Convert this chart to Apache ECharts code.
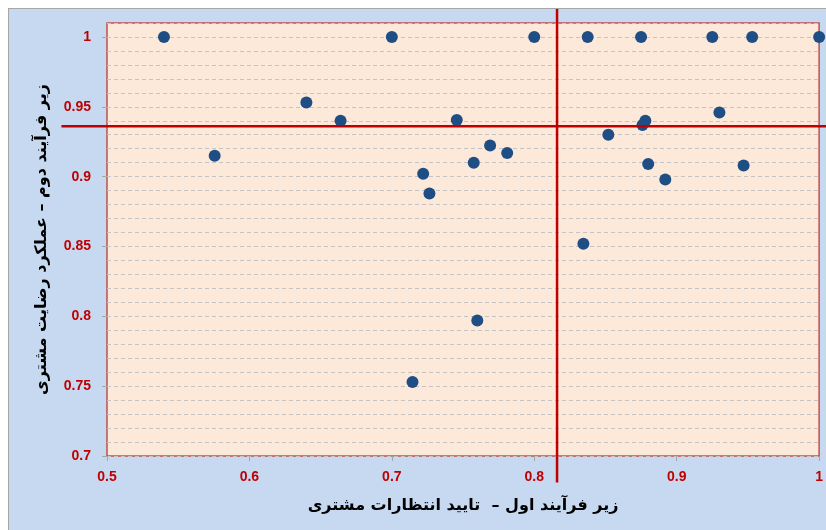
<!DOCTYPE html>
<html>
<head>
<meta charset="utf-8">
<script src="https://cdn.jsdelivr.net/npm/echarts@6/dist/echarts.min.js"></script>
<style>
html, body { margin: 0; padding: 0; background: #fff; }
#frame { position: absolute; left: 8px; top: 8px; width: 830px; height: 540px; background: #c6d9f1; border-left: 1px solid #a6a6a6; border-top: 1px solid #a6a6a6; }
#main { position: absolute; left: 0; top: 0; width: 826px; height: 530px; }
</style>
</head>
<body>
<div id="frame"></div>
<div id="main"></div>
<script>
// نقاط مشتریان: محور افقی = زیر فرآیند اول، محور عمودی = زیر فرآیند دوم
var xValues = [0.54, 0.70, 0.80, 0.8375, 0.875, 0.925, 0.953, 1.0,
	0.5756, 0.640, 0.664, 0.7456, 0.769, 0.781, 0.7575, 0.722, 0.7264,
	0.852, 0.878, 0.876, 0.880, 0.892, 0.930, 0.947, 0.8345, 0.760, 0.7145];
var yValues = [1, 1, 1, 1, 1, 1, 1, 1,
	0.915, 0.953, 0.940, 0.9405, 0.9223, 0.917, 0.910, 0.902, 0.888,
	0.930, 0.940, 0.937, 0.909, 0.898, 0.946, 0.908, 0.852, 0.797, 0.753];

// خطوط میانگین (قرمز)
var refX = 0.816;
var refY = 0.936;
var vLineSpan = [1.020, 0.681];
var hLineSpan = [0.468, 1.01];

var yTickLabels = [0.7, 0.75, 0.8, 0.85, 0.9, 0.95, 1];

var points = [];
for (var i in xValues) {
	points.push([xValues[i], yValues[i]]);
}
// [x1, y1, x2, y2]
var refLines = [
	[refX, vLineSpan[0], refX, vLineSpan[1]],
	[hLineSpan[0], refY, hLineSpan[1], refY]
];

var myChart = echarts.init(document.getElementById('main'));

var labelStyle = {
	color: '#c00000',
	fontWeight: 'bold',
	fontSize: 14,
	fontFamily: 'Liberation Sans'
};
var nameStyle = { color: '#000', fontWeight: 'bold', fontSize: 16, fontFamily: 'DejaVu Sans' };

var isLabel = function (v) {
	for (var i in yTickLabels) {
		if (Math.abs(yTickLabels[i] - v) < 1e-6) return true;
	}
	return false;
};

var option = {
	animation: false,
	grid: {
		left: 107,
		right: 5,
		top: 23,
		bottom: 74,
		show: true,
		backgroundColor: '#fde9d9',
		borderColor: '#c0504d',
		borderWidth: 1.5
	},
	xAxis: {
		type: 'value',
		min: 0.5,
		max: 1,
		interval: 0.1,
		name: 'زیر فرآیند اول –  تایید انتظارات مشتری',
		nameLocation: 'middle',
		nameGap: 42,
		nameTextStyle: nameStyle,
		axisLine: { show: false },
		axisTick: { show: true, length: 5, lineStyle: { color: '#a6a6a6' } },
		axisLabel: Object.assign({ margin: 14 }, labelStyle),
		splitLine: { show: false }
	},
	yAxis: [{
			type: 'value',
			min: 0.7,
			max: 1.01,
			interval: 0.01,
			name: 'زیر فرآیند دوم – عملکرد رضایت مشتری',
			nameLocation: 'middle',
			nameGap: 57,
			nameRotate: 90,
			nameTextStyle: nameStyle,
			axisLine: { show: false },
			axisTick: { show: false },
			axisLabel: Object.assign({
				margin: 16,
				showMaxLabel: false,
				formatter: function (v) {
					return isLabel(v) ? String(Math.round(v * 100) / 100) : '';
				}
			}, labelStyle),
			splitLine: { show: true, lineStyle: { color: '#c4c4c4', type: [4, 3], width: 1 } }
		},
		{
			type: 'value',
			position: 'left',
			min: 0.7,
			max: 1.01,
			axisLine: { show: false },
			axisTick: { show: true, length: 5, lineStyle: { color: '#a6a6a6' }, customValues: yTickLabels },
			axisLabel: { show: false },
			splitLine: { show: false }
		}
	],
	series: [{
			name: 'مشتریان',
			type: 'scatter',
			data: points,
			symbolSize: 12,
			clip: false,
			itemStyle: { color: '#1f4e85', opacity: 1 },
			z: 2
		},
		{
			type: 'custom',
			data: refLines,
			clip: false,
			silent: true,
			z: 3,
			renderItem: function (params, api) {
				var p1 = api.coord([api.value(0), api.value(1)]);
				var p2 = api.coord([api.value(2), api.value(3)]);
				return {
					type: 'line',
					shape: { x1: p1[0], y1: p1[1], x2: p2[0], y2: p2[1] },
					style: { stroke: '#c00000', lineWidth: 2.5 }
				};
			},
			encode: { x: [0, 2], y: [1, 3] }
		}
	]
};

myChart.setOption(option);

window.onresize = function () {
	myChart.resize();
};
</script>
</body>
</html>
